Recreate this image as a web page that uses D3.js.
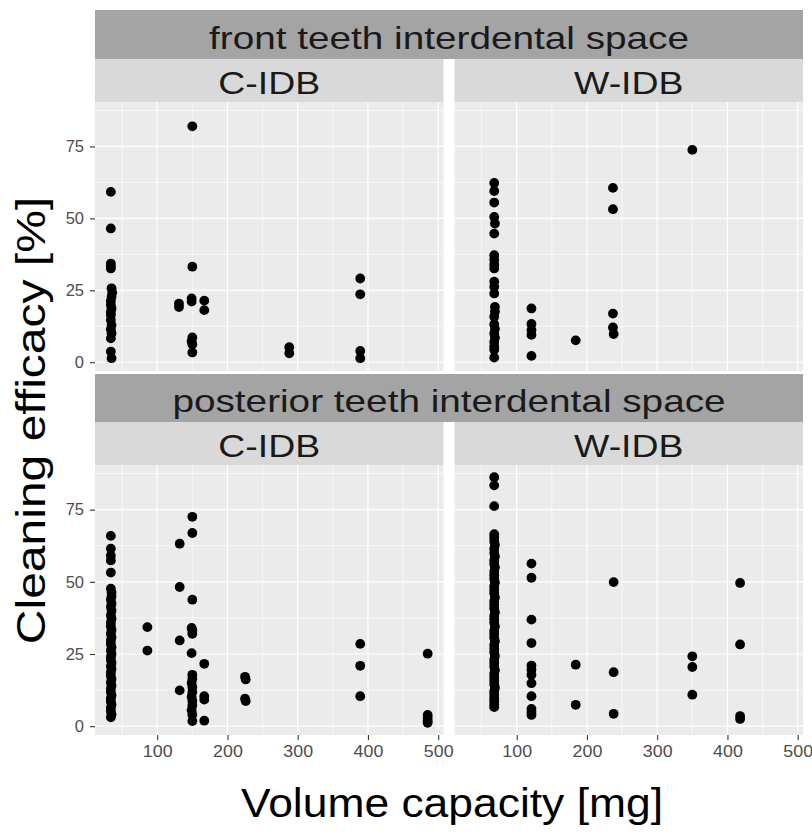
<!DOCTYPE html>
<html><head><meta charset="utf-8">
<script src="https://cdn.jsdelivr.net/npm/d3@7"></script>
<style>
body{margin:0;background:#fff;}
svg{display:block;font-family:"Liberation Sans",Arial,Helvetica,sans-serif;}
</style>
</head><body><svg id="chart" width="812" height="834"></svg>
<script>
// ---------- data ----------
const rowLabels = ["front teeth interdental space", "posterior teeth interdental space"];
const colLabels = ["C-IDB", "W-IDB"];
const xTicks = [100, 200, 300, 400, 500];
const yTicks = [0, 25, 50, 75];
const xTitle = "Volume capacity [mg]";
const yTitle = "Cleaning efficacy [%]";

// [volume capacity (mg), cleaning efficacy (%)]
const frontCIDB = [
  [34,59.2],[34,46.5],[34,34.3],[34,33.4],[34,32.6],[35,25.7],[36,24.2],[35,22.8],[34,21.3],[34,19.9],
  [35,18.7],[34,17.5],[34,16.4],[34,14.7],[35,12.9],[34,11.5],[35,10.1],[34,8.3],[34,3.7],[35,1.4],
  [131,20.4],[131,19.2],
  [150,82.0],[150,33.2],[149,22.2],[149,21.1],[150,8.6],[149,7.3],[150,6.2],[150,3.4],
  [167,21.4],[167,18.1],
  [288,5.2],[288,3.1],
  [389,29.1],[389,23.6],[389,3.9],[389,1.4]
];
const frontWIDB = [
  [68,62.3],[68,59.5],[68,55.5],[68,50.5],[69,48.2],[68,44.7],[68,37.2],[68,35.6],[68,34.0],[68,32.6],
  [68,28.0],[68,26.2],[68,23.9],[69,19.2],[69,17.6],[68,15.8],[68,13.2],[69,11.6],[68,10.0],[69,8.5],
  [68,7.0],[68,5.5],[68,4.3],[68,1.6],
  [121,18.7],[121,13.3],[121,11.2],[121,9.5],[121,2.2],
  [184,7.6],
  [237,60.6],[237,53.2],[237,16.9],[237,12.1],[238,9.8],
  [350,73.8]
];
const posteriorCIDB = [
  [34,65.9],[34,61.5],[34,59.0],[34,57.4],[34,53.2],[34,47.6],[35,46.3],[35,45.0],[34,43.8],[35,42.5],
  [34,41.3],[35,40.0],[34,38.4],[35,37.2],[34,35.8],[34,34.6],[35,33.3],[34,32.0],[35,30.8],[34,29.6],
  [34,28.5],[35,27.3],[34,26.2],[35,25.0],[34,24.0],[34,23.0],[35,21.9],[34,20.8],[35,19.8],[34,18.7],
  [34,17.5],[35,16.3],[34,15.2],[35,14.1],[34,13.0],[34,11.8],[35,10.7],[34,9.6],[34,8.5],[35,7.4],
  [34,6.3],[34,5.2],[35,4.1],[34,3.1],
  [86,34.3],[86,26.2],
  [132,63.2],[132,48.2],[132,29.7],[132,12.4],
  [150,72.5],[150,66.9],[150,43.8],[149,34.0],[150,33.2],[150,32.0],[149,25.3],[150,17.8],[150,16.4],[149,15.0],
  [150,13.5],[150,11.8],[149,10.2],[150,8.7],[150,7.2],[149,5.5],[150,4.0],[150,1.8],
  [167,21.6],[167,10.4],[167,9.2],[167,1.9],
  [225,17.1],[226,16.2],[225,9.5],[226,8.7],
  [389,28.5],[389,20.9],[389,10.4],
  [485,25.1],[485,3.9],[485,2.9],[485,1.9],[485,1.2]
];
const posteriorWIDB = [
  [68,86.2],[68,83.4],[68,76.2],[68,66.5],[68,65.3],[68,64.0],[69,62.8],[68,61.5],[68,60.0],[69,58.8],
  [68,57.5],[68,56.2],[69,55.0],[68,53.6],[68,52.3],[68,51.0],[69,49.8],[68,48.5],[68,47.2],[68,46.0],
  [69,44.6],[68,43.3],[68,42.0],[68,40.8],[69,39.5],[68,38.2],[68,37.0],[68,35.8],[69,34.5],[68,33.1],
  [68,31.9],[68,30.6],[69,29.4],[68,28.1],[68,26.9],[68,25.6],[69,24.3],[68,23.1],[68,21.9],[68,20.6],
  [69,19.4],[68,18.2],[68,17.0],[68,15.8],[68,14.5],[69,13.3],[68,12.1],[68,10.9],[68,9.7],[68,8.6],
  [68,7.5],[68,6.6],
  [121,56.3],[121,51.4],[121,36.9],[121,28.8],[121,21.0],[121,19.6],[121,17.8],[121,14.9],[121,10.4],[121,6.0],
  [121,4.9],[121,3.9],
  [184,21.3],[184,7.4],
  [238,49.9],[238,18.7],[238,4.3],
  [350,24.2],[350,20.5],[350,10.9],
  [418,49.6],[418,28.3],[418,3.5],[418,2.5]
];
const panelData = [[frontCIDB, frontWIDB], [posteriorCIDB, posteriorWIDB]];

// ---------- layout ----------
const svg = d3.select("#chart");
const cols = [{x0: 95, x1: 443.5}, {x0: 454.5, x1: 803}];
const rows = [
  {outer: [10, 59], inner: [59, 102], panel: [102, 371]},
  {outer: [374, 422], inner: [422, 465], panel: [465, 735]}
];

function stretch(sel, f) {
  sel.each(function () {
    const l = this.getComputedTextLength();
    d3.select(this).attr("textLength", l * f).attr("lengthAdjust", "spacingAndGlyphs");
  });
}

const all = panelData.flat(2);
const xe = d3.extent(all, d => d[0]), ye = d3.extent(all, d => d[1]);
const xPad = 0.05 * (xe[1] - xe[0]), yPad = 0.05 * (ye[1] - ye[0]);
const xDom = [xe[0] - xPad, xe[1] + xPad];
const yDom = [ye[0] - yPad, ye[1] + yPad];

const xMinor = [50, 150, 250, 350, 450];
const yMinor = [12.5, 37.5, 62.5, 87.5];

rows.forEach((r, ri) => {
  // outer strip
  svg.append("rect").attr("x", cols[0].x0).attr("y", r.outer[0])
    .attr("width", cols[1].x1 - cols[0].x0).attr("height", r.outer[1] - r.outer[0])
    .attr("fill", "#a4a4a4");
  svg.append("text").attr("x", (cols[0].x0 + cols[1].x1) / 2).attr("y", (r.outer[0] + r.outer[1]) / 2 + 14)
    .attr("text-anchor", "middle").attr("font-size", 32).attr("fill", "#1a1a1a")
    .text(rowLabels[ri]).call(stretch, 1.21);

  cols.forEach((c, ci) => {
    const x = d3.scaleLinear().domain(xDom).range([c.x0, c.x1]);
    const y = d3.scaleLinear().domain(yDom).range([r.panel[1], r.panel[0]]);
    // inner strip
    svg.append("rect").attr("x", c.x0).attr("y", r.inner[0])
      .attr("width", c.x1 - c.x0).attr("height", r.inner[1] - r.inner[0]).attr("fill", "#d9d9d9");
    svg.append("text").attr("x", (c.x0 + c.x1) / 2).attr("y", (r.inner[0] + r.inner[1]) / 2 + 13)
      .attr("text-anchor", "middle").attr("font-size", 32).attr("fill", "#1a1a1a")
      .text(colLabels[ci]).call(stretch, 1.17);
    // panel
    const g = svg.append("g");
    g.append("rect").attr("x", c.x0).attr("y", r.panel[0])
      .attr("width", c.x1 - c.x0).attr("height", r.panel[1] - r.panel[0]).attr("fill", "#ebebeb");
    g.selectAll(".xmin").data(xMinor).join("line")
      .attr("x1", d => x(d)).attr("x2", d => x(d)).attr("y1", r.panel[0]).attr("y2", r.panel[1])
      .attr("stroke", "#fff").attr("stroke-width", 0.6);
    g.selectAll(".ymin").data(yMinor).join("line")
      .attr("y1", d => y(d)).attr("y2", d => y(d)).attr("x1", c.x0).attr("x2", c.x1)
      .attr("stroke", "#fff").attr("stroke-width", 0.6);
    g.selectAll(".xmaj").data(xTicks).join("line")
      .attr("x1", d => x(d)).attr("x2", d => x(d)).attr("y1", r.panel[0]).attr("y2", r.panel[1])
      .attr("stroke", "#fff").attr("stroke-width", 1.2);
    g.selectAll(".ymaj").data(yTicks).join("line")
      .attr("y1", d => y(d)).attr("y2", d => y(d)).attr("x1", c.x0).attr("x2", c.x1)
      .attr("stroke", "#fff").attr("stroke-width", 1.2);
    // points
    g.selectAll("circle").data(panelData[ri][ci]).join("circle")
      .attr("cx", d => x(d[0])).attr("cy", d => y(d[1])).attr("r", 4.9).attr("fill", "#000");

    // axes
    if (ci === 0) {
      const ax = svg.append("g").attr("transform", `translate(${c.x0},0)`)
        .call(d3.axisLeft(y).tickValues(yTicks).tickSize(5).tickPadding(6));
      ax.select(".domain").remove();
      ax.selectAll(".tick line").attr("stroke", "#333").attr("stroke-width", 1.1);
      ax.selectAll(".tick text").attr("fill", "#4d4d4d").attr("font-size", 16.5).attr("font-family", null);
    }
    if (ri === 1) {
      const ax = svg.append("g").attr("transform", `translate(0,${r.panel[1]})`)
        .call(d3.axisBottom(x).tickValues(xTicks).tickSize(5).tickPadding(5));
      ax.select(".domain").remove();
      ax.selectAll(".tick line").attr("stroke", "#333").attr("stroke-width", 1.1);
      ax.selectAll(".tick text").attr("fill", "#4d4d4d").attr("font-size", 16.5).attr("font-family", null)
        .call(stretch, 1.08);
    }
  });
});

// axis titles
svg.append("text").attr("x", (cols[0].x0 + cols[1].x1) / 2 + 3).attr("y", 817)
  .attr("text-anchor", "middle").attr("font-size", 40).attr("fill", "#000").text(xTitle).call(stretch, 1.11);
svg.append("text").attr("transform", `translate(45,${(rows[0].panel[0] + rows[1].panel[1]) / 2 + 2}) rotate(-90)`)
  .attr("text-anchor", "middle").attr("font-size", 40).attr("fill", "#000").text(yTitle).call(stretch, 1.2);
</script>
</body></html>
